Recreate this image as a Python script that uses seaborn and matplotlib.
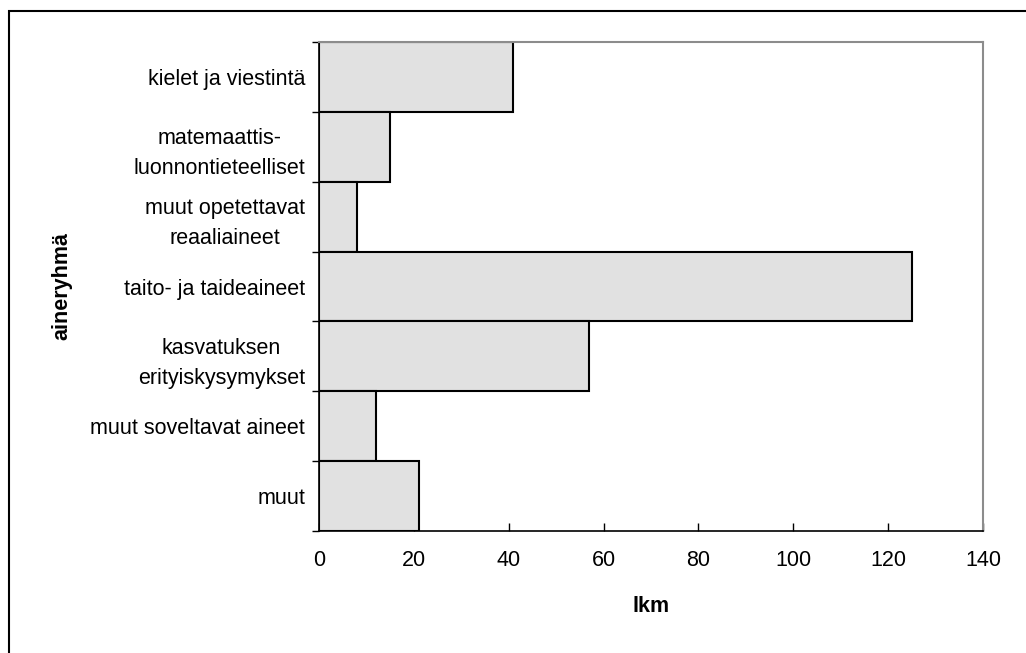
import matplotlib
matplotlib.use("Agg")
import matplotlib.pyplot as plt
import seaborn as sns
import pandas as pd
import numpy as np
from matplotlib.patches import Rectangle

categories = [
    "kielet ja viestintä",
    "matemaattis-\nluonnontieteelliset",
    "muut opetettavat\nreaaliaineet",
    "taito- ja taideaineet",
    "kasvatuksen\nerityiskysymykset",
    "muut soveltavat aineet",
    "muut",
]
values = [41, 15, 8, 125, 57, 12, 21]
x_ticks = [0, 20, 40, 60, 80, 100, 120, 140]

sns.set_style("white")
plt.rcParams['font.family'] = ['Liberation Sans', 'DejaVu Sans']
plt.rcParams['text.color'] = 'black'
plt.rcParams['xtick.color'] = 'black'
plt.rcParams['ytick.color'] = 'black'
plt.rcParams['axes.labelcolor'] = 'black'

FS = 15.5

df = pd.DataFrame({"cat": categories, "val": values})

fig = plt.figure(figsize=(10.26, 6.53), dpi=100)
W, H = 1026, 653
ax = fig.add_axes([319 / W, 1 - 531 / H, (983 - 319) / W, (531 - 42) / H])

sns.barplot(data=df, x="val", y="cat", orient="h", width=1.0,
            color="#e1e1e1", edgecolor="black", linewidth=1.5,
            saturation=1, ax=ax)

ax.set_xlim(0, 140)
ax.set_ylim(len(categories) - 0.5, -0.5)
ax.set_xticks(x_ticks)
ax.set_xticklabels([str(t) for t in x_ticks], fontsize=FS)

# category labels at centres, ticks at boundaries
ax.set_yticks(np.arange(len(categories)))
ax.set_yticklabels(categories, fontsize=FS, multialignment="center", linespacing=1.55)
ax.tick_params(axis="y", which="major", length=0, pad=10)
ax.set_yticks(np.arange(len(categories) + 1) - 0.5, minor=True)
ax.tick_params(axis="y", which="minor", length=5, width=1, color="black", direction="out", left=True)
ax.tick_params(axis="x", which="major", length=6, width=1, color="black", direction="in", bottom=True, pad=14)

for s in ["left", "bottom"]:
    ax.spines[s].set_color("black")
    ax.spines[s].set_linewidth(1.2)
for s in ["top", "right"]:
    ax.spines[s].set_visible(True)
    ax.spines[s].set_color("#8c8c8c")
    ax.spines[s].set_linewidth(1.5)

ax.set_xlabel("lkm", fontsize=FS, fontweight="bold", labelpad=18)
ax.set_ylabel("aineryhmä", fontsize=FS, fontweight="bold")
ax.yaxis.set_label_coords((72 - 319) / (983 - 319), 0.5)

# outer frame (clipped at right and bottom)
fig.patches.append(Rectangle((9 / W, -0.1), 1.2, 1 - 11 / H + 0.1,
                             transform=fig.transFigure, fill=False,
                             edgecolor="black", linewidth=1.5))

fig.savefig("out.png", dpi=100)
